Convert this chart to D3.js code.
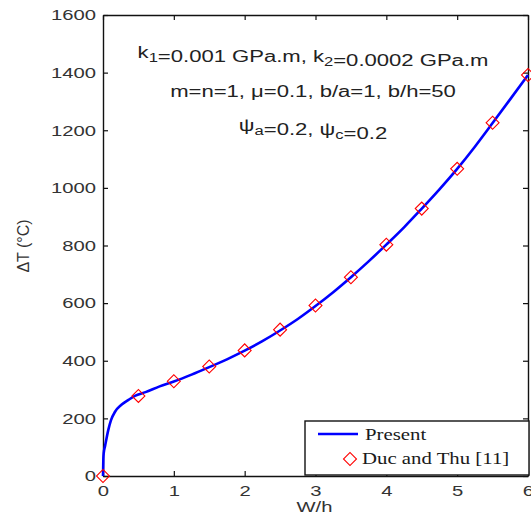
<!DOCTYPE html>
<html>
<head>
<meta charset="utf-8">
<script src="https://cdn.jsdelivr.net/npm/d3@7"></script>
<style>
  body { margin: 0; background: #fff; }
  svg { display: block; }
</style>
</head>
<body>
<svg id="chart"></svg>
<script>
// ---- data
const curveWh = [0, 0.005, 0.01, 0.03, 0.075, 0.113, 0.17, 0.26, 0.36, 0.45, 0.6, 0.8, 1.0,
  1.25, 1.5, 1.75, 2.0, 2.25, 2.5, 2.75, 3.0, 3.25, 3.5, 3.75, 4.0, 4.25, 4.5, 4.75, 5.0,
  5.25, 5.5, 5.75, 6.0];
const curveDT = [0, 60, 79, 105, 160, 194, 223, 247, 264, 278, 291, 311, 328,
  352, 378, 405, 435, 468, 505, 545, 590, 638, 690, 745, 803, 863, 928, 995, 1066,
  1143, 1225, 1308, 1392];

const markWh = [0, 0.5, 1, 1.5, 2, 2.5, 3, 3.5, 4, 4.5, 5, 5.5, 6];
const markDT = [0, 278, 329, 380, 436, 508, 592, 690, 803, 928, 1066, 1226, 1392];

const xTicks = [0, 1, 2, 3, 4, 5, 6];
const yTicks = [0, 200, 400, 600, 800, 1000, 1200, 1400, 1600];
const legendLabels = ["Present", "Duc and Thu [11]"];

// ---- layout
const W = 531, H = 519;
const margin = { top: 15, right: 3, bottom: 43, left: 103 };
const innerW = W - margin.left - margin.right;
const innerH = H - margin.top - margin.bottom;
const sx = 1.35;          // the picture is stretched sideways
const sans = "'Liberation Sans', Arial, sans-serif";
const serif = "'Liberation Serif', 'Times New Roman', serif";

const svg = d3.select("#chart").attr("width", W).attr("height", H);
const g = svg.append("g").attr("transform", `translate(${margin.left},${margin.top})`);

const x = d3.scaleLinear().domain([0, 6]).range([0, innerW]);
const y = d3.scaleLinear().domain([0, 1600]).range([innerH, 0]);
const fmt = d3.format("d");

// ---- axes (inward ticks, matlab style)
function styleAxis(sel) {
  sel.select(".domain").attr("stroke", "#111").attr("stroke-width", 1.4);
  sel.selectAll(".tick line").attr("stroke", "#111").attr("stroke-width", 1.2);
  sel.selectAll("text").style("font-family", sans).style("font-size", "15px").attr("fill", "#333");
}

const xAxisG = g.append("g")
  .attr("transform", `translate(0,${innerH})`)
  .call(d3.axisBottom(x).tickValues(xTicks).tickFormat(fmt).tickSizeInner(-5).tickSizeOuter(0).tickPadding(9));
styleAxis(xAxisG);
xAxisG.selectAll("text").attr("transform", `scale(${sx},1)`);

const yAxisG = g.append("g")
  .call(d3.axisLeft(y).tickValues(yTicks).tickFormat(fmt).tickSizeInner(-5).tickSizeOuter(0).tickPadding(5.2));
styleAxis(yAxisG);
yAxisG.selectAll("text").attr("transform", `scale(${sx},1)`);

const topG = g.append("g")
  .call(d3.axisTop(x).tickValues(xTicks).tickSizeInner(-5).tickSizeOuter(0).tickFormat(""));
styleAxis(topG);

const rightG = g.append("g")
  .attr("transform", `translate(${innerW},0)`)
  .call(d3.axisRight(y).tickValues(yTicks).tickSizeInner(-5).tickSizeOuter(0).tickFormat(""));
styleAxis(rightG);

// ---- axis titles
svg.append("text")
  .attr("transform", `translate(${margin.left + innerW / 2 - 1},512) scale(${sx},1)`)
  .attr("text-anchor", "middle")
  .style("font-family", sans).style("font-size", "15px")
  .attr("fill", "#333")
  .text("W/h");

svg.append("text")
  .attr("transform", `translate(29,246) rotate(-90)`)
  .attr("text-anchor", "middle")
  .style("font-family", sans).style("font-size", "16px")
  .attr("fill", "#333")
  .text("ΔT (°C)");

// ---- curve
const pts = curveWh.map((d, i) => [d, curveDT[i]]);
g.append("path")
  .datum(pts)
  .attr("fill", "none")
  .attr("stroke", "#0000ff")
  .attr("stroke-width", 2.6)
  .attr("d", d3.line().x(d => x(d[0])).y(d => y(d[1])).curve(d3.curveMonotoneX));

// ---- markers
const diamond = d3.symbol(d3.symbolSquare).size(84);
g.selectAll(".mark")
  .data(markWh.map((d, i) => [d, markDT[i]]))
  .enter()
  .append("path")
  .attr("class", "mark")
  .attr("d", diamond)
  .attr("transform", d => `translate(${x(d[0])},${y(d[1])}) rotate(45)`)
  .attr("fill", "none")
  .attr("stroke", "#ff0000")
  .attr("stroke-width", 1.1);

// ---- annotation
function note(yPos, parts) {
  const t = svg.append("text")
    .attr("transform", `translate(313,${yPos}) scale(1.38,1)`)
    .attr("text-anchor", "middle")
    .style("font-family", sans).style("font-size", "16px")
    .attr("fill", "#222");
  parts.forEach(p => {
    if (p.sub) {
      t.append("tspan").attr("dy", 4).style("font-size", "12px").text(p.sub);
      t.append("tspan").attr("dy", -4).text("");
    } else {
      t.append("tspan").text(p.t);
    }
  });
}
note(58, [{ t: "k" }, { sub: "1" }, { t: "=0.001 GPa.m, k" }, { sub: "2" }, { t: "=0.0002 GPa.m" }]);
note(97, [{ t: "m=n=1, μ=0.1, b/a=1, b/h=50" }]);
note(131, [{ t: "ψ" }, { sub: "a" }, { t: "=0.2, ψ" }, { sub: "c" }, { t: "=0.2" }]);

// ---- legend
const leg = svg.append("g");
leg.append("rect")
  .attr("x", 305).attr("y", 421).attr("width", 224).attr("height", 54)
  .attr("fill", "#fff").attr("stroke", "#111").attr("stroke-width", 1.4);
leg.append("line")
  .attr("x1", 318).attr("x2", 358).attr("y1", 434).attr("y2", 434)
  .attr("stroke", "#0000ff").attr("stroke-width", 2.6);
leg.append("path")
  .attr("d", diamond)
  .attr("transform", "translate(350,459) rotate(45)")
  .attr("fill", "none").attr("stroke", "#ff0000").attr("stroke-width", 1.1);
leg.selectAll(".ltext")
  .data(legendLabels)
  .enter()
  .append("text")
  .attr("class", "ltext")
  .attr("transform", (d, i) => i === 0 ? `translate(365,440) scale(1.3,1)` : `translate(362,464) scale(1.3,1)`)
  .style("font-family", serif).style("font-size", "16px")
  .attr("fill", "#1a1a1a")
  .text(d => d);
</script>
</body>
</html>
